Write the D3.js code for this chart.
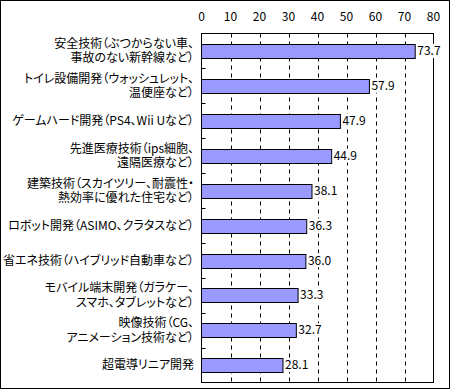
<!DOCTYPE html>
<html>
<head>
<meta charset="utf-8">
<script src="https://cdn.jsdelivr.net/npm/d3@7"></script>
<style>
  body { margin: 0; background: #fff; }
  svg text { font-family: "Noto Sans CJK JP", sans-serif; fill: #000; }
</style>
</head>
<body>
<div id="chart"></div>
<script>
// data
const categories = [
  "安全技術（ぶつからない車、\n事故のない新幹線など）",
  "トイレ設備開発（ウォッシュレット、\n温便座など）",
  "ゲームハード開発（PS4、Wii Uなど）",
  "先進医療技術（ips細胞、\n遠隔医療など）",
  "建築技術（スカイツリー、耐震性・\n熱効率に優れた住宅など）",
  "ロボット開発（ASIMO、クラタスなど）",
  "省エネ技術（ハイブリッド自動車など）",
  "モバイル端末開発（ガラケー、\nスマホ、タブレットなど）",
  "映像技術（CG、\nアニメーション技術など）",
  "超電導リニア開発"
];
const values = [73.7, 57.9, 47.9, 44.9, 38.1, 36.3, 36.0, 33.3, 32.7, 28.1];
const xTicks = [0, 10, 20, 30, 40, 50, 60, 70, 80];

const width = 450, height = 389;
const plot = { left: 201.5, right: 433.5, top: 33.5, bottom: 382.5 };

const svg = d3.select("#chart").append("svg")
  .attr("width", width)
  .attr("height", height);

// outer frame
svg.append("rect")
  .attr("x", 0.5).attr("y", 0.5)
  .attr("width", width - 1).attr("height", height - 1)
  .attr("fill", "none").attr("stroke", "#000");

const x = d3.scaleLinear().domain([0, 80]).range([plot.left, plot.right]);
const y = d3.scaleBand()
  .domain(categories)
  .range([plot.top, plot.bottom])
  .paddingInner(0.61)
  .paddingOuter(0.305);

// dashed gridlines
svg.append("g")
  .selectAll("line")
  .data(xTicks.filter(d => d > 0 && d < 80))
  .join("line")
  .attr("x1", d => Math.round(x(d)) + 0.5)
  .attr("x2", d => Math.round(x(d)) + 0.5)
  .attr("y1", plot.top)
  .attr("y2", plot.bottom)
  .attr("stroke", "#000")
  .attr("stroke-dasharray", "4,4");

// top axis labels
svg.append("g")
  .selectAll("text")
  .data(xTicks)
  .join("text")
  .attr("x", d => x(d))
  .attr("y", 17)
  .attr("dy", "0.35em")
  .attr("text-anchor", "middle")
  .style("font-size", "12px")
  .text(d => d);

// bars
svg.append("g")
  .selectAll("rect")
  .data(values)
  .join("rect")
  .attr("x", x(0))
  .attr("y", (d, i) => Math.round(y(categories[i])) + 0.5)
  .attr("width", d => x(d) - x(0))
  .attr("height", Math.round(y.bandwidth()))
  .attr("fill", "#9999ff")
  .attr("stroke", "#000");

// plot frame
svg.append("rect")
  .attr("x", plot.left).attr("y", plot.top)
  .attr("width", plot.right - plot.left).attr("height", plot.bottom - plot.top)
  .attr("fill", "none").attr("stroke", "#000");

// inward ticks on the category axis, at band boundaries
const step = y.step();
svg.append("g")
  .selectAll("line")
  .data(d3.range(1, categories.length))
  .join("line")
  .attr("x1", plot.left)
  .attr("x2", plot.left + 4)
  .attr("y1", i => Math.round(plot.top + i * step) + 0.5)
  .attr("y2", i => Math.round(plot.top + i * step) + 0.5)
  .attr("stroke", "#000");

// value labels on a white box (covers gridlines and the frame, like the original)
const valG = svg.append("g")
  .selectAll("g")
  .data(values)
  .join("g")
  .attr("transform", (d, i) => `translate(${x(d) + 2},${y(categories[i]) + y.bandwidth() / 2})`);

valG.append("rect")
  .attr("class", "bg")
  .attr("fill", "#fff")
  .attr("y", -7)
  .attr("height", 14);

valG.append("text")
  .attr("dy", "0.35em")
  .style("font-size", "12px")
  .text(d => d.toFixed(1));

valG.each(function() {
  const g = d3.select(this);
  const w = g.select("text").node().getComputedTextLength();
  g.select("rect.bg").attr("x", -1).attr("width", w + 2);
});

// category labels, one text per line
svg.append("g")
  .selectAll("g")
  .data(categories)
  .join("g")
  .each(function(d) {
    const lines = d.split("\n");
    const cy = y(d) + y.bandwidth() / 2;
    d3.select(this).selectAll("text")
      .data(lines)
      .join("text")
      .attr("text-anchor", "end")
      .attr("x", 194)
      .attr("y", (ln, k) => cy + (k - (lines.length - 1) / 2) * 14.5)
      .attr("dy", "0.35em")
      .style("font-size", "12px")
      .style("font-feature-settings", "'palt'")
      .text(ln => ln);
  });
</script>
</body>
</html>
